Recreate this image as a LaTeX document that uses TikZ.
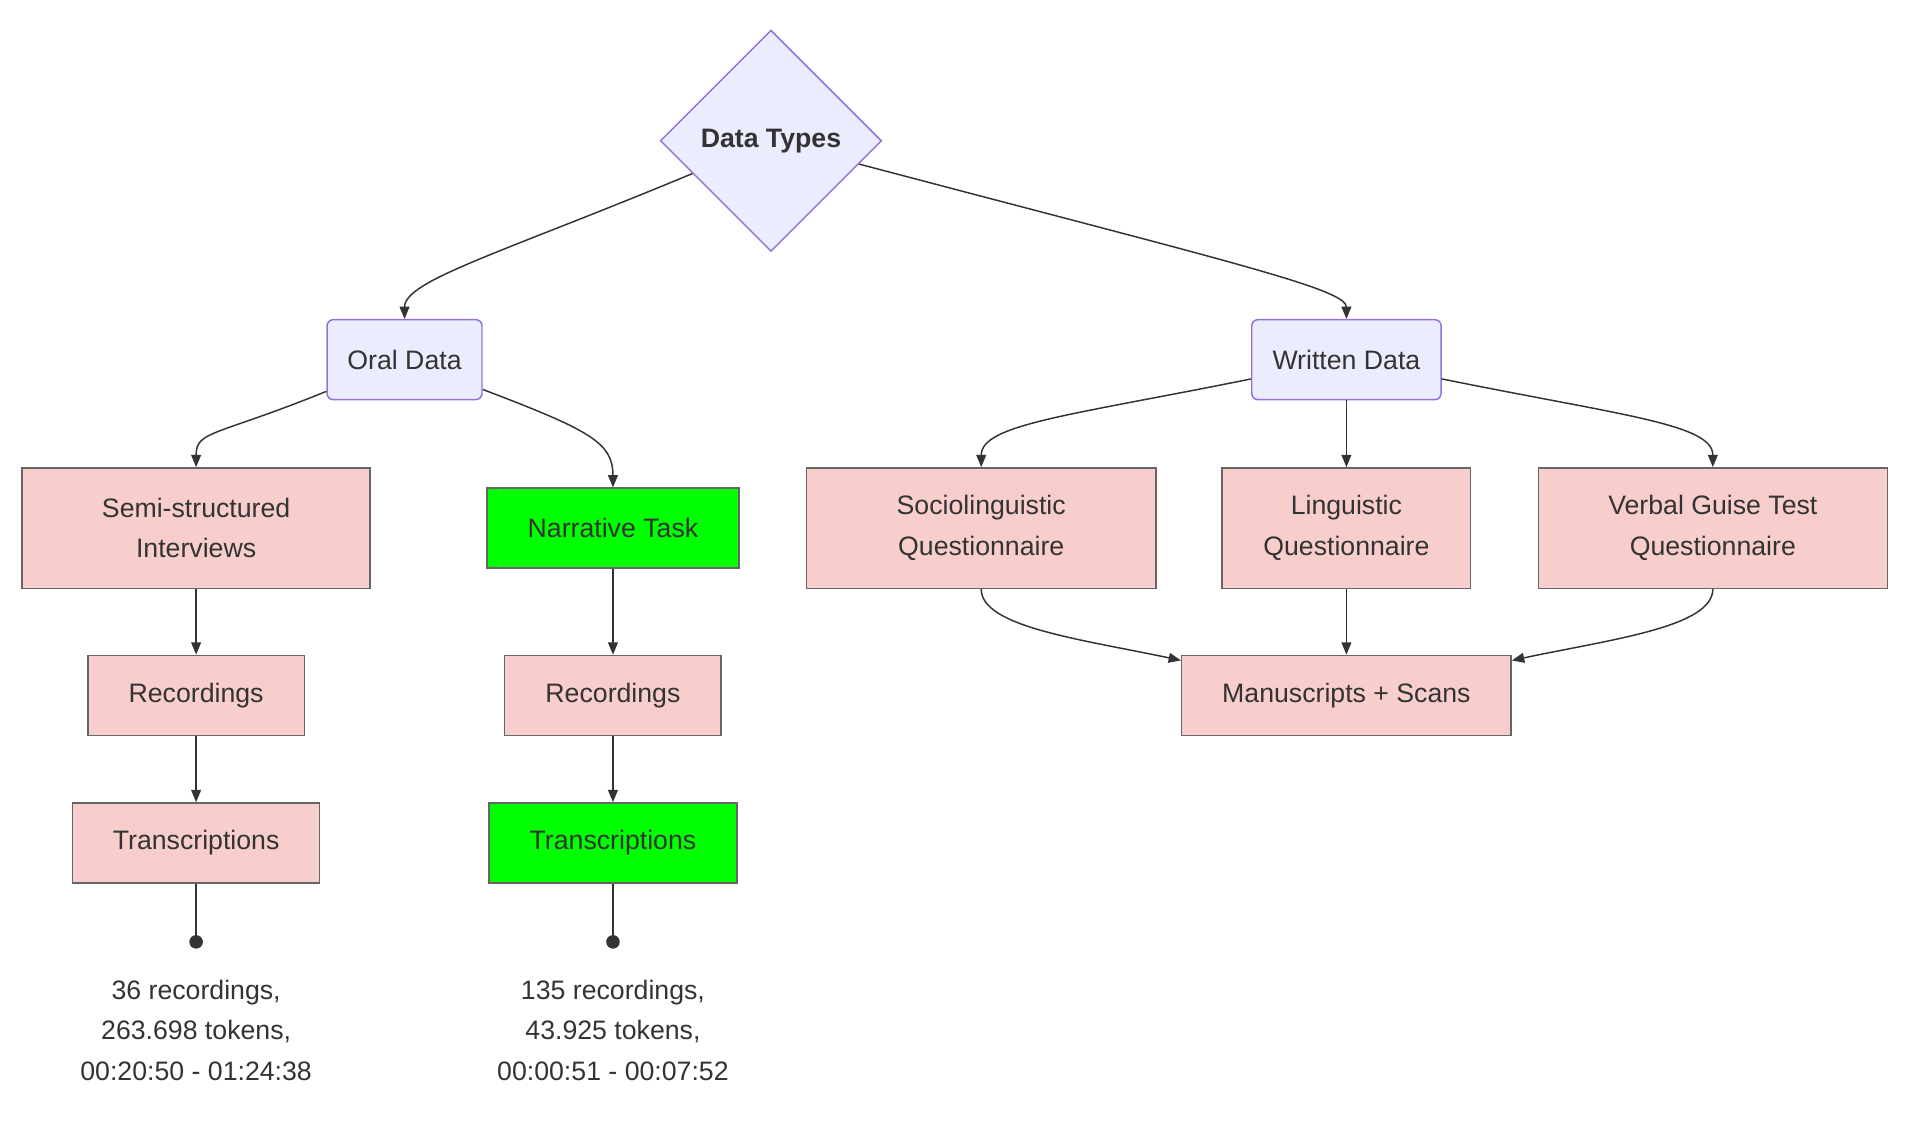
\documentclass[tikz,border=0pt]{standalone}
\usepackage{fontspec}
\setmainfont{Liberation Sans}
\usetikzlibrary{arrows.meta,shapes.geometric}
\definecolor{txt}{HTML}{333333}
\definecolor{lav}{HTML}{ECECFF}
\definecolor{lavb}{HTML}{9370DB}
\definecolor{pinkf}{HTML}{F8CECC}
\definecolor{greyb}{HTML}{666666}
\definecolor{grn}{HTML}{00FF00}
\begin{document}
\begin{tikzpicture}[x=1pt,y=-1pt,
  every node/.style={font=\fontsize{21.7}{33}\selectfont, text=txt, align=center, inner sep=0pt},
  cat/.style={rectangle, rounded corners=5pt, draw=lavb, fill=lav, line width=1.2pt, minimum height=65pt},
  pbox/.style={rectangle, draw=greyb, fill=pinkf, line width=1.2pt},
  gbox/.style={rectangle, draw=greyb, fill=grn, line width=1.2pt},
  edge/.style={draw=txt, line width=1.2pt, -{Triangle[length=10pt,width=8pt]}},
  dotedge/.style={draw=txt, line width=1.2pt, -{Circle[length=11pt,width=11pt]}},
  info/.style={text=txt}
]
\useasboundingbox (0,0) rectangle (1568,919);

\node[diamond, draw=lavb, fill=lav, line width=1.2pt, minimum width=180pt, minimum height=180pt, aspect=1, font=\fontsize{21.7}{33}\selectfont\bfseries] (dt) at (627,114.5) {Data Types};

\node[cat, minimum width=126pt] (oral) at (329,292.5) {Oral Data};
\node[cat, minimum width=154pt] (written) at (1095,292.5) {Written Data};

\node[pbox, minimum width=283pt, minimum height=98pt] (semi) at (159.5,429.5) {Semi-structured\\Interviews};
\node[gbox, minimum width=205pt, minimum height=65pt] (narr) at (498.5,429.5) {Narrative Task};
\node[pbox, minimum width=284pt, minimum height=98pt] (socio) at (798,429.5) {Sociolinguistic\\Questionnaire};
\node[pbox, minimum width=202pt, minimum height=98pt] (ling) at (1095,429.5) {Linguistic\\Questionnaire};
\node[pbox, minimum width=284pt, minimum height=98pt] (verbal) at (1393,429.5) {Verbal Guise Test\\Questionnaire};

\node[pbox, minimum width=176pt, minimum height=65pt] (rec1) at (159.5,565.5) {Recordings};
\node[pbox, minimum width=176pt, minimum height=65pt] (rec2) at (498.5,565.5) {Recordings};
\node[pbox, minimum width=268pt, minimum height=65pt] (man) at (1095,565.5) {Manuscripts + Scans};

\node[pbox, minimum width=201pt, minimum height=65pt] (tr1) at (159.5,685.5) {Transcriptions};
\node[gbox, minimum width=202pt, minimum height=65pt] (tr2) at (498.5,685.5) {Transcriptions};

\coordinate (d1) at (159.5,771.5);
\coordinate (d2) at (498.5,771.5);

\node[info] (i1) at (159.5,838) {36 recordings,\\263.698 tokens,\\00:20:50 - 01:24:38};
\node[info] (i2) at (498.5,838) {135 recordings,\\43.925 tokens,\\00:00:51 - 00:07:52};

% edges
\draw[edge] (dt) .. controls (410,205) and (329,228) .. (oral);
\draw[edge] (dt) .. controls (1000,213) and (1095,235) .. (written);
\draw[edge] (oral) .. controls (175,355) and (159.5,350) .. (semi);
\draw[edge] (oral) .. controls (480,350) and (498.5,360) .. (narr);
\draw[edge] (written) .. controls (870,338) and (798,345) .. (socio);
\draw[edge] (written) -- (ling);
\draw[edge] (written) .. controls (1320,338) and (1393,345) .. (verbal);

\draw[edge] (semi) -- (rec1);
\draw[edge] (rec1) -- (tr1);
\draw[edge] (narr) -- (rec2);
\draw[edge] (rec2) -- (tr2);

\draw[edge] (socio.south) .. controls (798,510) and (880,520) .. (man);
\draw[edge] (ling) -- (man);
\draw[edge] (verbal.south) .. controls (1393,510) and (1310,520) .. (man);

\draw[dotedge] (tr1) -- (d1);
\draw[dotedge] (tr2) -- (d2);
\end{tikzpicture}
\end{document}
